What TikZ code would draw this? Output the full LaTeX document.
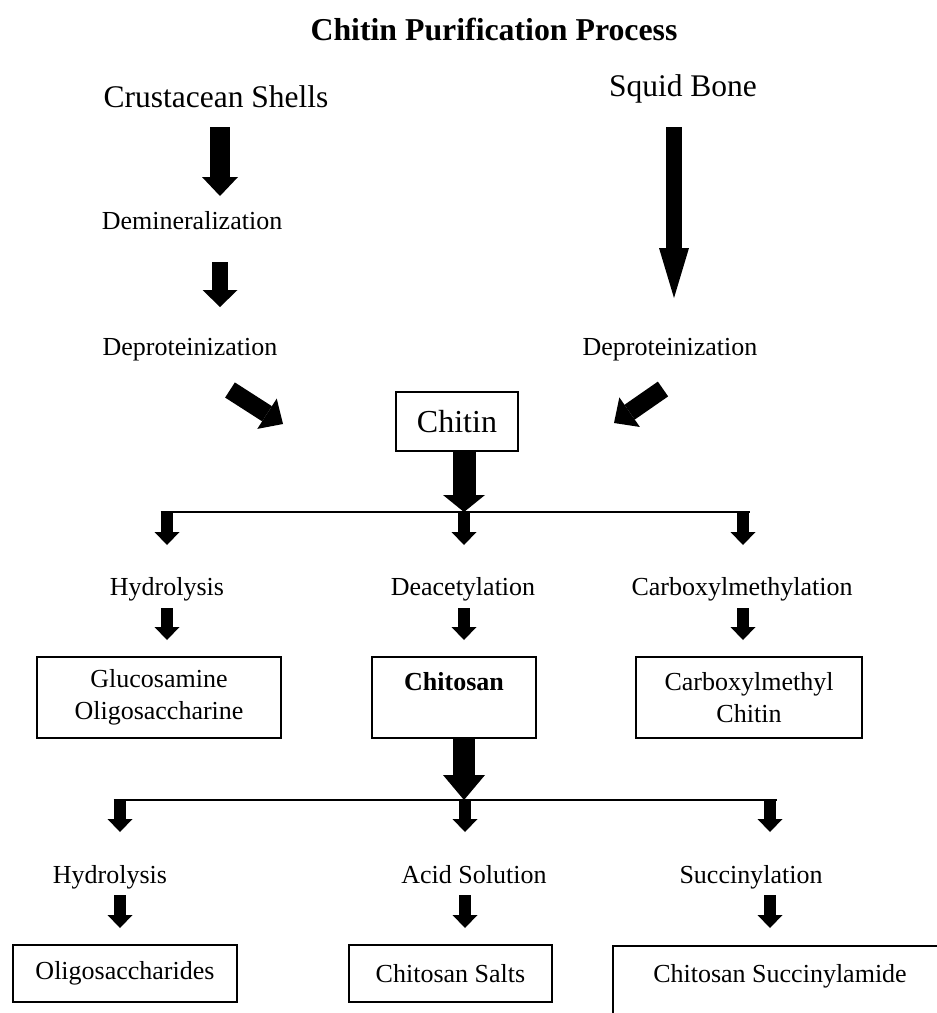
\documentclass[tikz,border=0pt]{standalone}
\usepackage{fontspec}
\setmainfont{Liberation Serif}
\usetikzlibrary{arrows.meta}
\tikzset{
  lbl/.style={inner sep=0pt, anchor=base, font=\fontsize{26}{32}\selectfont},
  lbig/.style={inner sep=0pt, anchor=base, font=\fontsize{31.5}{36}\selectfont},
  pbox/.style={draw, line width=2pt, inner sep=0pt, align=center, font=\fontsize{26}{32}\selectfont},
  barrow/.style n args={3}{line width=#1, -{Triangle[width=#2, length=#3, line width=0pt]}},
  sm/.style={barrow={12.5pt}{25pt}{13pt}},
  hline/.style={line width=2.2pt},
}
\begin{document}
\begin{tikzpicture}[x=1pt,y=-1pt]
\useasboundingbox (0,0) rectangle (937,1013);
\clip (0,0) rectangle (937,1013);

% title and sources
\node[inner sep=0pt, anchor=base, font=\bfseries\fontsize{31.8}{36}\selectfont] (title) at (494,40) {Chitin Purification Process};
\node[lbig] (crust) at (216,107) {Crustacean Shells};
\node[lbig] (squid) at (683,96) {Squid Bone};
\node[lbl] (demin) at (192,229) {Demineralization};
\node[lbl] (depL) at (190,355) {Deproteinization};
\node[lbl] (depR) at (670,355) {Deproteinization};
\node[pbox, font=\fontsize{32}{36}\selectfont, minimum width=122pt, minimum height=59pt] (chitin) at (457,421.5) {Chitin};

% arrow end points
\coordinate (a1s) at (220,127); \coordinate (a1e) at (220,196);
\coordinate (a2s) at (220,262); \coordinate (a2e) at (220,307);
\coordinate (sqs) at (674,127); \coordinate (sqe) at (674,298);
\coordinate (dls) at (230,390); \coordinate (dle) at (283,424);
\coordinate (drs) at (663,389); \coordinate (dre) at (614,423);

\draw[barrow={20pt}{36pt}{19pt}] (a1s) -- (a1e);
\draw[barrow={16pt}{35pt}{17pt}] (a2s) -- (a2e);
\draw[barrow={16pt}{30pt}{50pt}] (sqs) -- (sqe);
\draw[barrow={18pt}{36pt}{19pt}] (dls) -- (dle);
\draw[barrow={18pt}{36pt}{19pt}] (drs) -- (dre);

% first branching
\coordinate (b1l) at (167,512); \coordinate (b1c) at (464,512); \coordinate (b1r) at (743,512);
\draw[hline] ([xshift=-6.5pt]b1l) -- ([xshift=6.5pt]b1r);
\draw[barrow={23pt}{42pt}{17pt}] (chitin.south -| b1c) -- (b1c);
\coordinate (t1l) at (167,545); \coordinate (t1c) at (464,545); \coordinate (t1r) at (743,545);
\draw[sm] (b1l) -- (t1l);
\draw[sm] (b1c) -- (t1c);
\draw[sm] (b1r) -- (t1r);

\node[lbl] (hyd1) at (167,595) {Hydrolysis};
\node[lbl] (deac) at (463,595) {Deacetylation};
\node[lbl] (carbm) at (742,595) {Carboxylmethylation};

\coordinate (u1l) at (167,608); \coordinate (u1c) at (464,608); \coordinate (u1r) at (743,608);
\coordinate (v1l) at (167,640); \coordinate (v1c) at (464,640); \coordinate (v1r) at (743,640);
\draw[sm] (u1l) -- (v1l);
\draw[sm] (u1c) -- (v1c);
\draw[sm] (u1r) -- (v1r);

\node[pbox, minimum width=244pt, minimum height=81pt] (gluc) at (159,697.5) {Glucosamine\\Oligosaccharine};
\node[pbox, minimum width=164pt, minimum height=81pt] (chitosan) at (454,697.5) {\textbf{Chitosan}\\[0pt]\mbox{}};
\node[pbox, minimum width=226pt, minimum height=81pt] (carbc) at (749,697.5) {Carboxylmethyl\\Chitin};

% second branching
\coordinate (b2l) at (120,800); \coordinate (b2c) at (465,800); \coordinate (b2r) at (770,800);
\draw[hline] ([xshift=-6.5pt]b2l) -- ([xshift=6.5pt]b2r);
\draw[barrow={22pt}{42pt}{25pt}] (chitosan.south -| b1c) -- (b1c |- b2c);
\coordinate (t2l) at (120,832); \coordinate (t2c) at (465,832); \coordinate (t2r) at (770,832);
\draw[sm] (b2l) -- (t2l);
\draw[sm] (b2c) -- (t2c);
\draw[sm] (b2r) -- (t2r);

\node[lbl] (hyd2) at (110,883) {Hydrolysis};
\node[lbl] (acid) at (474,883) {Acid Solution};
\node[lbl] (succ) at (751,883) {Succinylation};

\coordinate (u2l) at (120,895); \coordinate (u2c) at (465,895); \coordinate (u2r) at (770,895);
\coordinate (v2l) at (120,928); \coordinate (v2c) at (465,928); \coordinate (v2r) at (770,928);
\draw[sm] (u2l) -- (v2l);
\draw[sm] (u2c) -- (v2c);
\draw[sm] (u2r) -- (v2r);

\node[pbox, minimum width=224pt, minimum height=57pt] (oligo) at (125,973.5) {Oligosaccharides};
\node[pbox, minimum width=203pt, minimum height=57pt] (salts) at (450.5,973.5) {Chitosan Salts};
\node[pbox, minimum width=360pt, minimum height=100pt, anchor=north west] (succbox) at (612,945) {};
\node[lbl] (succt) at (780,982) {Chitosan Succinylamide};
\end{tikzpicture}
\end{document}
